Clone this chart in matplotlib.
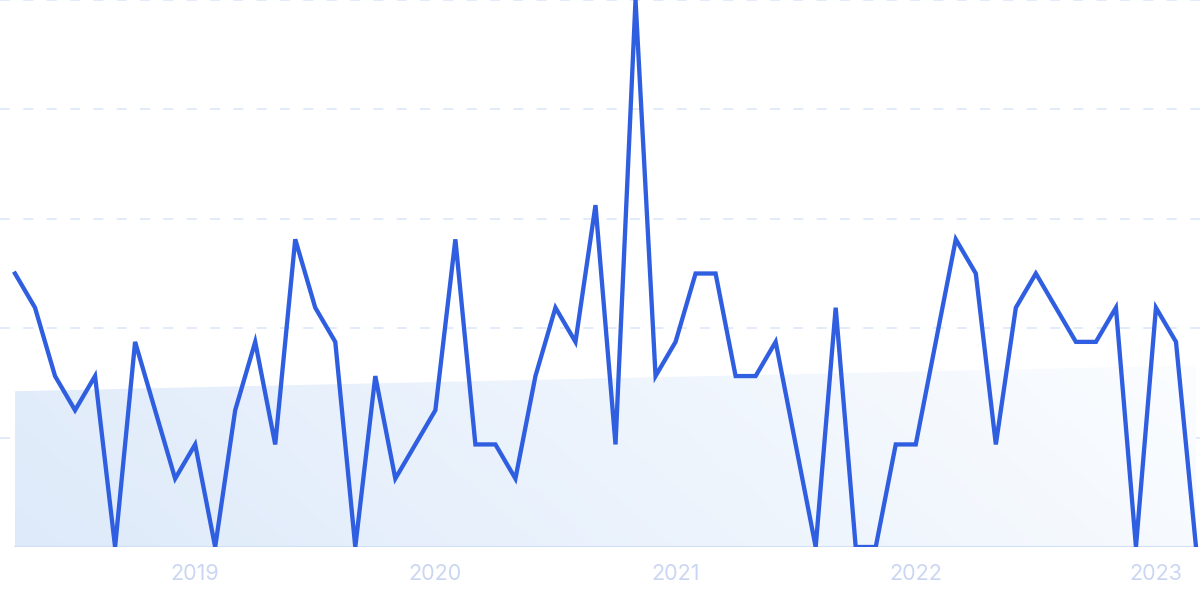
import numpy as np
import matplotlib
matplotlib.use("Agg")
import matplotlib.pyplot as plt
from matplotlib.patches import Polygon

# maandelijkse waarden, apr 2018 t/m mrt 2023
months = np.arange(60)
values = [8, 7, 5, 4, 5, 0, 6, 4, 2, 3,
          0, 4, 6, 3, 9, 7, 6, 0, 5, 2,
          3, 4, 9, 3, 3, 2, 5, 7, 6, 10,
          3, 16, 5, 6, 8, 8, 5, 5, 6, 3,
          0, 7, 0, 0, 3, 3, 6, 9, 8, 3,
          7, 8, 7, 6, 6, 7, 0, 7, 6, 0]
year_ticks = [9, 21, 33, 45, 57]
year_labels = ["2019", "2020", "2021", "2022", "2023"]

plt.rcParams["font.family"] = ["Inter", "DejaVu Sans"]

W, H = 1200, 599
fig = plt.figure(figsize=(W / 100, H / 100), dpi=100)
ax = fig.add_axes([0, 52 / H, 1, 547 / H])

px = 1181 / 59
ax.set_xlim(-15 / px, 59 + 4 / px)
ax.set_ylim(0, 16)

# trendlijn als gevulde achtergrond
a, b = np.polyfit(months, values, 1)
x0, x1 = months[0], months[-1]
y0, y1 = a * x0 + b, a * x1 + b
poly = Polygon([(x0, 0), (x0, y0), (x1, y1), (x1, 0)], closed=True,
               facecolor="none", edgecolor="none")
ax.add_patch(poly)

gx, gy = np.meshgrid(np.linspace(0, 1, 300), np.linspace(0, 1, 100))
t = np.clip(0.85 * gx + 0.15 * (1 - gy), 0, 1)
c0 = np.array([0xde, 0xea, 0xfa]) / 255
c1 = np.array([0xfb, 0xfd, 0xff]) / 255
img = c0[None, None, :] * (1 - t[..., None]) + c1[None, None, :] * t[..., None]
im = ax.imshow(img, extent=[x0, x1, 0, max(y0, y1)], origin="upper",
               aspect="auto", zorder=1)
im.set_clip_path(poly)

# rasterlijnen
for gv in [3.2, 6.4, 9.6, 12.8, 16]:
    ax.axhline(gv, color="#dce7f8", lw=1.2, dashes=(6, 8), zorder=0.5)
ax.axhline(0, xmin=15 / W, xmax=1197 / W, color="#cfe0f7", lw=1.5, zorder=2)

ax.plot(months, values, color="#2f5fe0", lw=3.1, solid_joinstyle="miter",
        zorder=3)

ax.set_xticks(year_ticks)
ax.set_xticklabels(year_labels)
ax.tick_params(axis="x", length=0, pad=12, labelsize=15.5, labelcolor="#cbd6f2")
ax.set_yticks([])
for s in ax.spines.values():
    s.set_visible(False)

fig.savefig("out.png", dpi=100)
